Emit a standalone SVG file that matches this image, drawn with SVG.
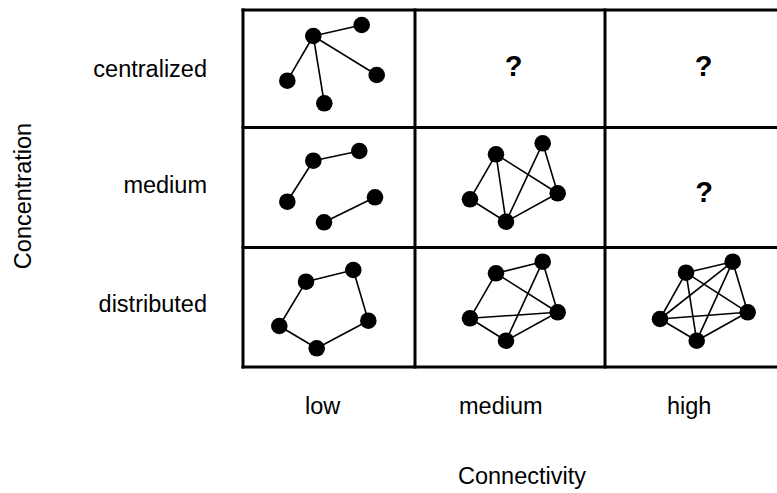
<svg xmlns="http://www.w3.org/2000/svg" width="777" height="493" viewBox="0 0 777 493">
  <style>
    .grid { stroke: #000; stroke-width: 3; fill: none; }
    .edge { stroke: #000; stroke-width: 1.6; }
    .dot { fill: #000; }
    .lbl { font-family: "Liberation Sans", Arial, sans-serif; font-size: 23.5px; fill: #000; }
    .q { font-family: "Liberation Sans", Arial, sans-serif; font-size: 29px; font-weight: bold; fill: #000; text-anchor: middle; }
  </style>
  <rect width="777" height="493" fill="#fff"/>

  <!-- 3x3 matrix frame -->
  <g id="grid" class="grid">
    <line x1="241.5" y1="10" x2="780" y2="10"/>
    <line x1="241.5" y1="127.5" x2="780" y2="127.5"/>
    <line x1="241.5" y1="247.5" x2="780" y2="247.5"/>
    <line x1="241.5" y1="367" x2="780" y2="367"/>
    <line x1="243" y1="8.5" x2="243" y2="368.5"/>
    <line x1="415" y1="8.5" x2="415" y2="368.5"/>
    <line x1="605" y1="8.5" x2="605" y2="368.5"/>
  </g>

  <!-- row labels -->
  <g id="row-labels" class="lbl" text-anchor="end">
    <text x="207" y="77">centralized</text>
    <text x="207" y="193">medium</text>
    <text x="207" y="312">distributed</text>
  </g>

  <!-- column labels -->
  <g id="col-labels" class="lbl">
    <text x="305" y="414">low</text>
    <text x="459" y="414">medium</text>
    <text x="667" y="414">high</text>
  </g>

  <!-- axis titles -->
  <text id="x-axis-title" class="lbl" x="458" y="484">Connectivity</text>
  <text id="y-axis-title" class="lbl" text-anchor="middle" transform="translate(31,196) rotate(-90)">Concentration</text>

  <!-- empty combinations -->
  <g id="unknown">
    <text class="q" x="513.5" y="76">?</text>
    <text class="q" x="703.5" y="76">?</text>
    <text class="q" x="704" y="202">?</text>
  </g>

  <!-- centralized / low: star -->
  <g id="cell-centralized-low">
    <g class="edge">
      <line x1="313.3" y1="36" x2="361.7" y2="25"/>
      <line x1="313.3" y1="36" x2="287.3" y2="80.7"/>
      <line x1="313.3" y1="36" x2="324.3" y2="103.3"/>
      <line x1="313.3" y1="36" x2="376.7" y2="75"/>
    </g>
    <circle class="dot" cx="313.3" cy="36" r="8.3"/>
    <circle class="dot" cx="361.7" cy="25" r="8.3"/>
    <circle class="dot" cx="287.3" cy="80.7" r="8.3"/>
    <circle class="dot" cx="324.3" cy="103.3" r="8.3"/>
    <circle class="dot" cx="376.7" cy="75" r="8.3"/>
  </g>

  <!-- medium / low: two fragments -->
  <g id="cell-medium-low">
    <g class="edge">
      <line x1="313.3" y1="160.7" x2="359.3" y2="151"/>
      <line x1="313.3" y1="160.7" x2="287.3" y2="201.7"/>
      <line x1="324" y1="222.3" x2="375" y2="197.3"/>
    </g>
    <circle class="dot" cx="313.3" cy="160.7" r="8.3"/>
    <circle class="dot" cx="359.3" cy="151" r="8.3"/>
    <circle class="dot" cx="287.3" cy="201.7" r="8.3"/>
    <circle class="dot" cx="324" cy="222.3" r="8.3"/>
    <circle class="dot" cx="375" cy="197.3" r="8.3"/>
  </g>

  <!-- medium / medium -->
  <g id="cell-medium-medium">
    <g class="edge">
      <line x1="496" y1="154.3" x2="470" y2="199.3"/>
      <line x1="496" y1="154.3" x2="506" y2="221.7"/>
      <line x1="496" y1="154.3" x2="557.7" y2="193.3"/>
      <line x1="542.7" y1="143.3" x2="506" y2="221.7"/>
      <line x1="542.7" y1="143.3" x2="557.7" y2="193.3"/>
      <line x1="470" y1="199.3" x2="506" y2="221.7"/>
      <line x1="506" y1="221.7" x2="557.7" y2="193.3"/>
    </g>
    <circle class="dot" cx="496" cy="154.3" r="8.3"/>
    <circle class="dot" cx="542.7" cy="143.3" r="8.3"/>
    <circle class="dot" cx="470" cy="199.3" r="8.3"/>
    <circle class="dot" cx="506" cy="221.7" r="8.3"/>
    <circle class="dot" cx="557.7" cy="193.3" r="8.3"/>
  </g>

  <!-- distributed / low: ring -->
  <g id="cell-distributed-low">
    <g class="edge">
      <line x1="306" y1="281.7" x2="353.3" y2="270"/>
      <line x1="353.3" y1="270" x2="368.3" y2="320.7"/>
      <line x1="368.3" y1="320.7" x2="316.7" y2="348.3"/>
      <line x1="316.7" y1="348.3" x2="279.3" y2="326"/>
      <line x1="279.3" y1="326" x2="306" y2="281.7"/>
    </g>
    <circle class="dot" cx="306" cy="281.7" r="8.3"/>
    <circle class="dot" cx="353.3" cy="270" r="8.3"/>
    <circle class="dot" cx="279.3" cy="326" r="8.3"/>
    <circle class="dot" cx="316.7" cy="348.3" r="8.3"/>
    <circle class="dot" cx="368.3" cy="320.7" r="8.3"/>
  </g>

  <!-- distributed / medium -->
  <g id="cell-distributed-medium">
    <g class="edge">
      <line x1="496" y1="273.3" x2="542.7" y2="261.7"/>
      <line x1="496" y1="273.3" x2="470" y2="318.3"/>
      <line x1="496" y1="273.3" x2="557.7" y2="312.3"/>
      <line x1="542.7" y1="261.7" x2="506" y2="340.7"/>
      <line x1="542.7" y1="261.7" x2="557.7" y2="312.3"/>
      <line x1="470" y1="318.3" x2="506" y2="340.7"/>
      <line x1="470" y1="318.3" x2="557.7" y2="312.3"/>
      <line x1="506" y1="340.7" x2="557.7" y2="312.3"/>
    </g>
    <circle class="dot" cx="496" cy="273.3" r="8.3"/>
    <circle class="dot" cx="542.7" cy="261.7" r="8.3"/>
    <circle class="dot" cx="470" cy="318.3" r="8.3"/>
    <circle class="dot" cx="506" cy="340.7" r="8.3"/>
    <circle class="dot" cx="557.7" cy="312.3" r="8.3"/>
  </g>

  <!-- distributed / high: fully connected -->
  <g id="cell-distributed-high">
    <g class="edge">
      <line x1="686" y1="272.7" x2="732.7" y2="261.7"/>
      <line x1="686" y1="272.7" x2="660" y2="319"/>
      <line x1="686" y1="272.7" x2="696.7" y2="340.7"/>
      <line x1="686" y1="272.7" x2="747.7" y2="312.3"/>
      <line x1="732.7" y1="261.7" x2="660" y2="319"/>
      <line x1="732.7" y1="261.7" x2="696.7" y2="340.7"/>
      <line x1="732.7" y1="261.7" x2="747.7" y2="312.3"/>
      <line x1="660" y1="319" x2="696.7" y2="340.7"/>
      <line x1="660" y1="319" x2="747.7" y2="312.3"/>
      <line x1="696.7" y1="340.7" x2="747.7" y2="312.3"/>
    </g>
    <circle class="dot" cx="686" cy="272.7" r="8.3"/>
    <circle class="dot" cx="732.7" cy="261.7" r="8.3"/>
    <circle class="dot" cx="660" cy="319" r="8.3"/>
    <circle class="dot" cx="696.7" cy="340.7" r="8.3"/>
    <circle class="dot" cx="747.7" cy="312.3" r="8.3"/>
  </g>
</svg>
